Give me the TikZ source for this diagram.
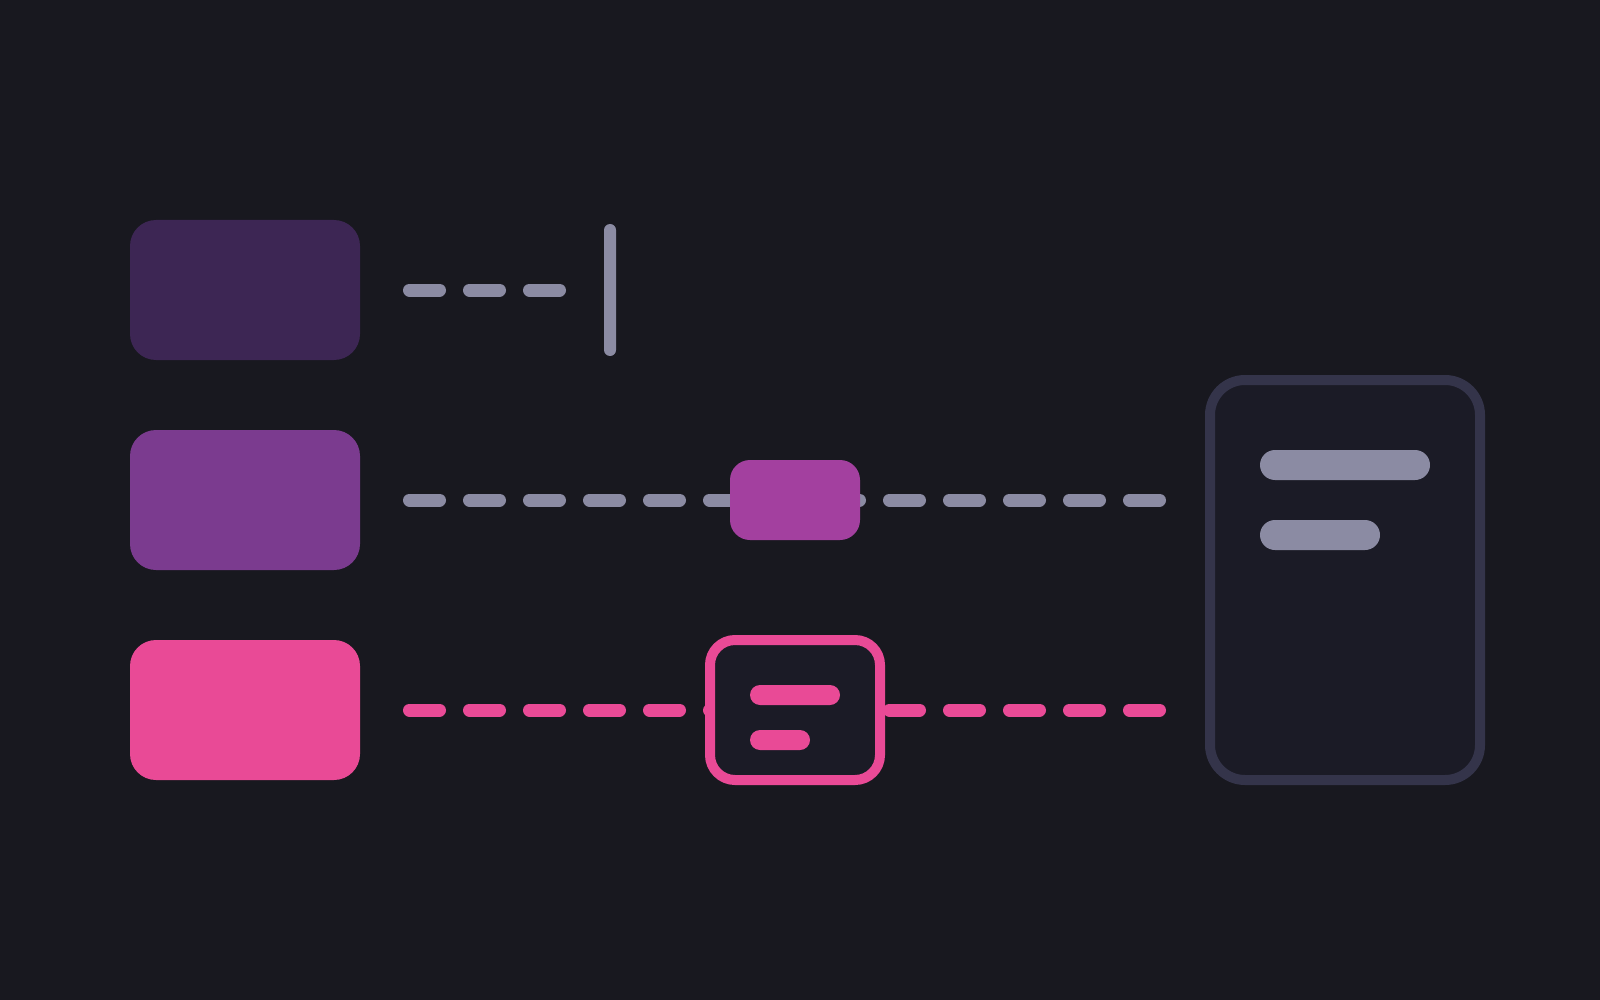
\documentclass[tikz,border=0pt]{standalone}
\usepackage{tikz}
\usetikzlibrary{calc,positioning}
\definecolor{bgc}{HTML}{18181F}
\definecolor{cardc}{HTML}{1B1B26}
\definecolor{rimc}{HTML}{34344A}
\definecolor{greyc}{HTML}{8B8BA3}
\definecolor{plumc}{HTML}{3D2654}
\definecolor{violc}{HTML}{7B3B8F}
\definecolor{magc}{HTML}{A3409F}
\definecolor{pinkc}{HTML}{E94A96}

\begin{document}
\begin{tikzpicture}[x=1pt,y=-1pt,
  blk/.style={rectangle,inner sep=0pt,outer sep=0pt,rounded corners=26pt,minimum width=230pt,minimum height=140pt},
  bar/.style={rectangle,inner sep=0pt,outer sep=0pt,anchor=west,rounded corners=#1,minimum height=2*#1},
  row/.style={draw=#1,line width=13pt,line cap=round,dash pattern=on 30pt off 30pt,shorten <=49.5pt}]
\fill[bgc] (0,0) rectangle (1600,1000);
\useasboundingbox (0,0) rectangle (1600,1000);
\node[blk,fill=plumc] (1) at (245,290) {};
\node[blk,fill=violc] (2) at (245,500) {};
\node[blk,fill=pinkc] (3) at (245,710) {};
\node[rectangle,inner sep=0pt,outer sep=0pt,fill=greyc,rounded corners=6pt,minimum width=12pt,minimum height=132pt] (4) at (610,290) {};
\node[rectangle,inner sep=0pt,outer sep=0pt,fill=cardc,draw=rimc,line width=10pt,rounded corners=35pt,minimum width=270pt,minimum height=400pt] (7) at (1345,580) {};
\node[bar=15pt,fill=greyc,minimum width=170pt] (8) at (1260,465) {};
\node[bar=15pt,fill=greyc,minimum width=120pt] (9) at (1260,535) {};
\draw[row=greyc,shorten >=44.5pt] (1.east) -- (4.west);
\draw[row=greyc,shorten >=50.5pt] (2.east) -- (2.east -| 7.west);
\draw[row=pinkc,shorten >=50.5pt] (3.east) -- (3.east -| 7.west);
\node[rectangle,inner sep=0pt,outer sep=0pt,fill=magc,rounded corners=20pt,minimum width=130pt,minimum height=80pt] (5) at (795,500) {};
\node[rectangle,inner sep=0pt,outer sep=0pt,fill=cardc,draw=pinkc,line width=10pt,rounded corners=25pt,minimum width=170pt,minimum height=140pt] (6) at (795,710) {};
\node[bar=10pt,fill=pinkc,minimum width=90pt] (10) at (750,695) {};
\node[bar=10pt,fill=pinkc,minimum width=60pt] (11) at (750,740) {};
\end{tikzpicture}
\end{document}
